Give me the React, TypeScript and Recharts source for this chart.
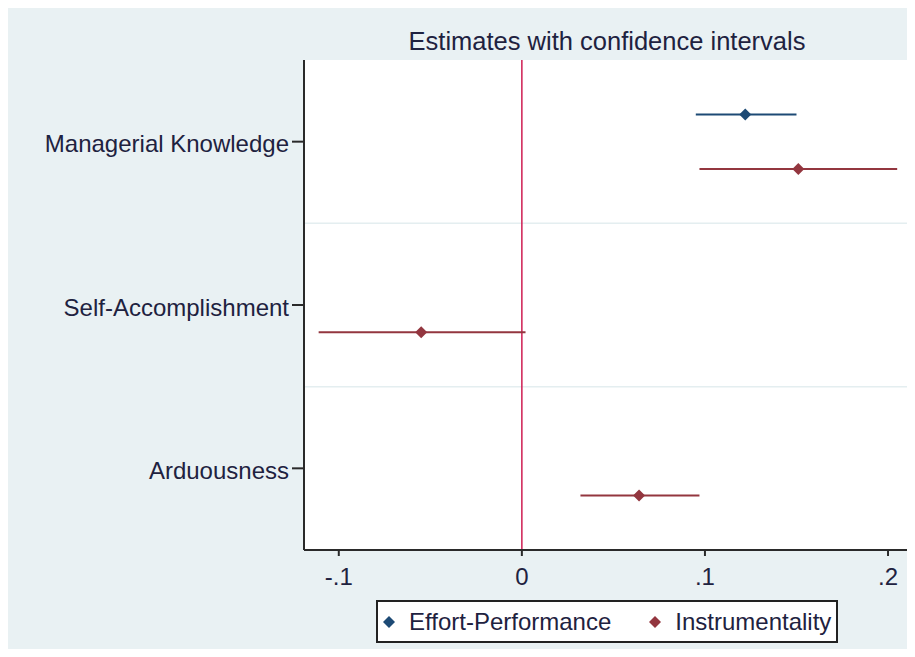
import React from 'react';
import {
  ComposedChart,
  Scatter,
  ErrorBar,
  XAxis,
  YAxis,
  CartesianGrid,
  ReferenceLine,
} from 'recharts';

// coefficient plot: one row per category, two models
const categories = ['Managerial Knowledge', 'Self-Accomplishment', 'Arduousness'];
const categoryPos = [3, 2, 1];
const rowBreaks = [1.5, 2.5];

const effortEstimate = [0.122, null, null];
const effortLow = [0.095, null, null];
const effortHigh = [0.15, null, null];

const instrEstimate = [0.151, -0.055, 0.064];
const instrLow = [0.097, -0.111, 0.032];
const instrHigh = [0.205, 0.002, 0.097];

const xTicks = [-0.1, 0, 0.1, 0.2];
const xDomain = [-0.119, 0.212];

const seriesNames = ['Effort-Performance', 'Instrumentality'];
const BLUE = '#1d4a75';
const RED = '#93363f';
const FONT = '"Liberation Sans", Arial, sans-serif';
const TEXT = '#1e2240';

function buildSeries(est: (number | null)[], lo: (number | null)[], hi: (number | null)[], offset: number) {
  return est
    .map((v, i) =>
      v === null
        ? null
        : {
            x: v,
            y: categoryPos[i] + offset,
            err: [v - (lo[i] as number), (hi[i] as number) - v],
          }
    )
    .filter(Boolean);
}

const effortData = buildSeries(effortEstimate, effortLow, effortHigh, 0.167);
const instrData = buildSeries(instrEstimate, instrLow, instrHigh, -0.167);

function Diamond(props: any) {
  const { cx, cy, fill } = props;
  const r = 6;
  return (
    <polygon
      points={`${cx},${cy - r} ${cx + r},${cy} ${cx},${cy + r} ${cx - r},${cy}`}
      fill={fill}
    />
  );
}

const fmtX = (v: number) => {
  if (v === 0) return '0';
  return (v < 0 ? '-' : '') + String(Math.abs(v)).replace(/^0/, '');
};

const fmtY = (v: number) => {
  const i = categoryPos.indexOf(v);
  return i >= 0 ? categories[i] : '';
};

function LegendDiamond({ color }: { color: string }) {
  return (
    <svg width={12} height={12} style={{ marginRight: 14 }}>
      <polygon points="6,0 12,6 6,12 0,6" fill={color} />
    </svg>
  );
}

export default function App() {
  return (
    <div style={{ position: 'relative', width: 915, height: 657, background: '#fff', margin: -8 }}>
      <div
        style={{
          position: 'absolute',
          left: 6,
          top: 7,
          width: 909,
          height: 645,
          background: '#e9f1f3',
        }}
      />
      <div
        style={{
          position: 'absolute',
          left: 304,
          width: 606,
          top: 26,
          textAlign: 'center',
          fontFamily: FONT,
          fontSize: 25.5,
          color: TEXT,
          lineHeight: '30px',
        }}
      >
        Estimates with confidence intervals
      </div>
      <div style={{ position: 'absolute', left: 0, top: 0 }}>
        <ComposedChart
          width={915}
          height={657}
          margin={{ top: 60, right: 5, left: 6, bottom: 67 }}
        >
          <CartesianGrid fill="#ffffff" horizontal={false} vertical={false} />
          {rowBreaks.map((b) => (
            <ReferenceLine key={b} y={b} stroke="#e4eef0" strokeWidth={1.5} />
          ))}
          <XAxis
            type="number"
            dataKey="x"
            domain={xDomain}
            ticks={xTicks}
            allowDataOverflow
            tickFormatter={fmtX}
            height={40}
            axisLine={{ stroke: '#2a2a2a', strokeWidth: 2 }}
            tickLine={{ stroke: '#2a2a2a', strokeWidth: 2 }}
            tickSize={6}
            tickMargin={12}
            tick={{ fill: TEXT, fontSize: 24, fontFamily: FONT }}
          />
          <YAxis
            type="number"
            dataKey="y"
            domain={[0.5, 3.5]}
            ticks={categoryPos}
            tickFormatter={fmtY}
            width={298}
            axisLine={{ stroke: '#2a2a2a', strokeWidth: 2 }}
            tickLine={{ stroke: '#2a2a2a', strokeWidth: 2 }}
            tickSize={12}
            tickMargin={3}
            tick={{ fill: TEXT, fontSize: 24, fontFamily: FONT, dy: 2 }}
          />
          <ReferenceLine x={0} stroke="#cf1d52" strokeWidth={1.5} />
          <Scatter
            name={seriesNames[0]}
            data={effortData}
            fill={BLUE}
            shape={<Diamond />}
            isAnimationActive={false}
          >
            <ErrorBar dataKey="err" direction="x" width={0} stroke={BLUE} strokeWidth={2} />
          </Scatter>
          <Scatter
            name={seriesNames[1]}
            data={instrData}
            fill={RED}
            shape={<Diamond />}
            isAnimationActive={false}
          >
            <ErrorBar dataKey="err" direction="x" width={0} stroke={RED} strokeWidth={2} />
          </Scatter>
        </ComposedChart>
      </div>
      <div
        style={{
          position: 'absolute',
          left: 376,
          top: 600,
          width: 458,
          height: 39,
          border: '2px solid #222',
          background: '#fff',
          display: 'flex',
          alignItems: 'center',
          fontFamily: FONT,
          fontSize: 24,
          color: TEXT,
        }}
      >
        <span style={{ display: 'flex', alignItems: 'center', marginLeft: 5 }}>
          <LegendDiamond color={BLUE} />
          {seriesNames[0]}
        </span>
        <span style={{ display: 'flex', alignItems: 'center', marginLeft: 38 }}>
          <LegendDiamond color={RED} />
          {seriesNames[1]}
        </span>
      </div>
    </div>
  );
}
